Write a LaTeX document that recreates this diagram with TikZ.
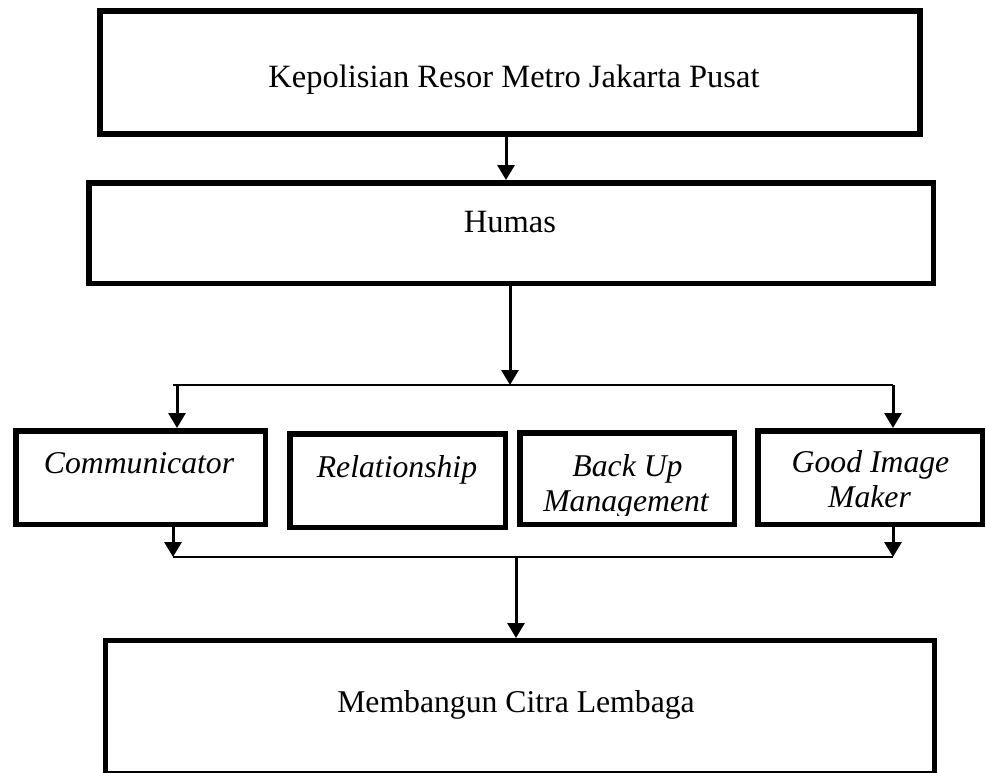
\documentclass[tikz,border=0pt]{standalone}
\usepackage{fontspec}
\setmainfont{Liberation Serif}
\usetikzlibrary{arrows.meta}
\begin{document}
\begin{tikzpicture}[x=1pt,y=-1pt,
  box/.style={draw, line width=5.5pt, inner sep=0pt},
  big/.style={anchor=base, inner sep=0pt, font=\fontsize{32.5}{36}\selectfont},
  txt/.style={anchor=base, inner sep=0pt, font=\fontsize{31.7}{35}\selectfont},
  itx/.style={txt, font=\fontsize{31.7}{35}\selectfont\itshape},
  arr/.style={-{Triangle[width=17pt,length=15pt]}, line width=3pt},
  bus/.style={line width=2.2pt}]
\useasboundingbox (0,0) rectangle (986,772);
\fill[white] (0,0) rectangle (986,772);

% boxes
\node[box, line width=6pt, minimum width=820pt, minimum height=123pt] (k) at (510,72.5) {};
\node[box, minimum width=844.5pt, minimum height=100.5pt] (h) at (511,233) {};
\node[box, minimum width=249.5pt, minimum height=93.5pt] (c) at (140.5,477.5) {};
\node[box, minimum width=215.5pt, minimum height=93.5pt] (r) at (397.5,480.5) {};
\node[box, minimum width=214.5pt, minimum height=91.5pt] (b) at (627,478.5) {};
\node[box, minimum width=224.5pt, minimum height=93.5pt] (g) at (870,477.5) {};
\node[box, line width=5pt, minimum width=829pt, minimum height=133pt] (m) at (520,707) {};

% texts
\node[big] (tk) at (514,87) {Kepolisian Resor Metro Jakarta Pusat};
\node[big] (th) at (510,232) {Humas};
\node[itx] (tc) at (139,473) {Communicator};
\node[itx] (tr) at (397,477) {Relationship};
\node[itx] (tb1) at (627.5,476) {Back Up};
\begin{scope}
  \clip (520,433) rectangle (734,515);
  \node[itx] (tb2) at (626,511) {Management};
\end{scope}
\node[itx] (tg1) at (870.5,472) {Good Image};
\node[itx] (tg2) at (869.5,507) {Maker};
\node[txt] (tm) at (516,712) {Membangun Citra Lembaga};

% connector coordinates
\coordinate (t1) at (173,385);
\coordinate (t2) at (893,385);
\coordinate (l1) at (173,557);
\coordinate (l2) at (893,557);
\coordinate (a1) at (506,0);
\coordinate (a2) at (510,0);
\coordinate (a3) at (177,0);
\coordinate (a5) at (516,0);

% buses
\draw[bus] (t1) -- (t2);
\draw[bus] (l1) -- (l2);

% arrows
\draw[arr] (k.south -| a1) -- (h.north -| a1);
\draw[arr] (h.south -| a2) -- (a2 |- t1);
\draw[arr] (t1 -| a3) -- (c.north -| a3);
\draw[arr] (t2) -- (g.north -| t2);
\draw[arr] (c.south -| l1) -- (l1);
\draw[arr] (g.south -| l2) -- (l2);
\draw[arr] (l1 -| a5) -- (m.north -| a5);
\end{tikzpicture}
\end{document}
